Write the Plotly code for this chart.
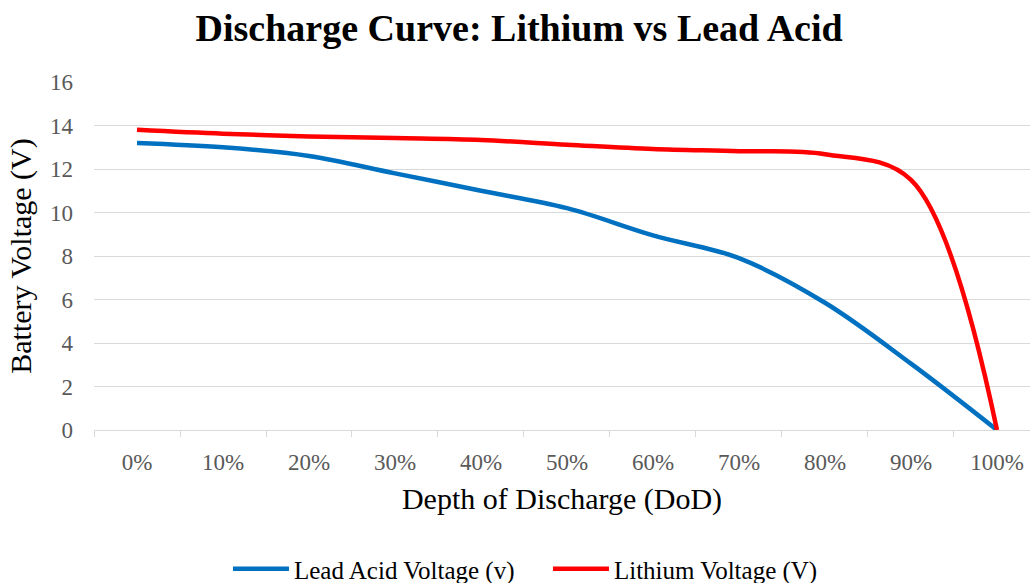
import plotly.graph_objects as go

dod = [0, 10, 20, 30, 40, 50, 60, 70, 80, 90, 100]
tick_labels = ["0%", "10%", "20%", "30%", "40%", "50%", "60%", "70%", "80%", "90%", "100%"]
lead_acid = [13.2, 13.0, 12.6, 11.8, 11.0, 10.2, 8.95, 7.9, 5.85, 3.05, 0.0]
lithium = [13.8, 13.62, 13.5, 13.42, 13.33, 13.12, 12.92, 12.82, 12.68, 11.5, 0.0]
boundaries = [-5, 5, 15, 25, 35, 45, 55, 65, 75, 85, 95]

FONT = "Liberation Serif"
GRID = "#d9d9d9"

fig = go.Figure()
fig.add_trace(go.Scatter(x=dod, y=lead_acid, mode="lines", name="Lead Acid Voltage (v)",
                         line=dict(color="#0070C0", width=4.5, shape="spline", smoothing=1)))
fig.add_trace(go.Scatter(x=dod, y=lithium, mode="lines", name="Lithium Voltage (V)",
                         line=dict(color="#FF0000", width=4.5, shape="spline", smoothing=1)))
# invisible trace to enable the boundary-tick axis
fig.add_trace(go.Scatter(x=[boundaries[0]], y=[0], xaxis="x2", mode="markers",
                         marker=dict(opacity=0), showlegend=False, hoverinfo="skip"))

xr = [-5, 103.84]
fig.update_layout(
    width=1030, height=583,
    margin=dict(l=94, r=0, t=82, b=153, autoexpand=False),
    paper_bgcolor="white", plot_bgcolor="white",
    title=dict(text="<b>Discharge Curve: Lithium vs Lead Acid</b>", x=0.504, xanchor="center",
               y=0.952, yanchor="middle",
               font=dict(family=FONT, size=38, color="black")),
    xaxis=dict(range=xr, tickvals=dod, ticktext=tick_labels, showgrid=False, zeroline=False,
               showline=True, linecolor=GRID, linewidth=1, ticks="", automargin=False,
               tickfont=dict(family=FONT, size=23, color="#595959"), ticklabelstandoff=11,
               title=dict(text="Depth of Discharge (DoD)", standoff=14,
                          font=dict(family=FONT, size=30, color="black"))),
    xaxis2=dict(range=xr, overlaying="x", side="bottom", tickvals=boundaries, ticks="outside",
                ticklen=6, tickcolor=GRID, tickwidth=1, showticklabels=False, showgrid=False,
                zeroline=False, showline=False, automargin=False),
    yaxis=dict(range=[0, 16], dtick=2, tick0=0, showgrid=True, gridcolor=GRID, gridwidth=1,
               zeroline=False, showline=False, ticks="", automargin=False,
               tickfont=dict(family=FONT, size=23, color="#595959"), ticklabelstandoff=20,
               title=dict(text="Battery Voltage (V)", standoff=9,
                          font=dict(family=FONT, size=30, color="black"))),
    legend=dict(orientation="h", x=0.532, xanchor="center", xref="container",
                y=0.024, yanchor="middle", yref="container",
                font=dict(family=FONT, size=25, color="black"), itemwidth=56,
                entrywidth=249, traceorder="normal"),
    showlegend=True,
)

fig.write_html("out.html", config={"displayModeBar": False},
               post_script="document.body.style.margin='0';")
